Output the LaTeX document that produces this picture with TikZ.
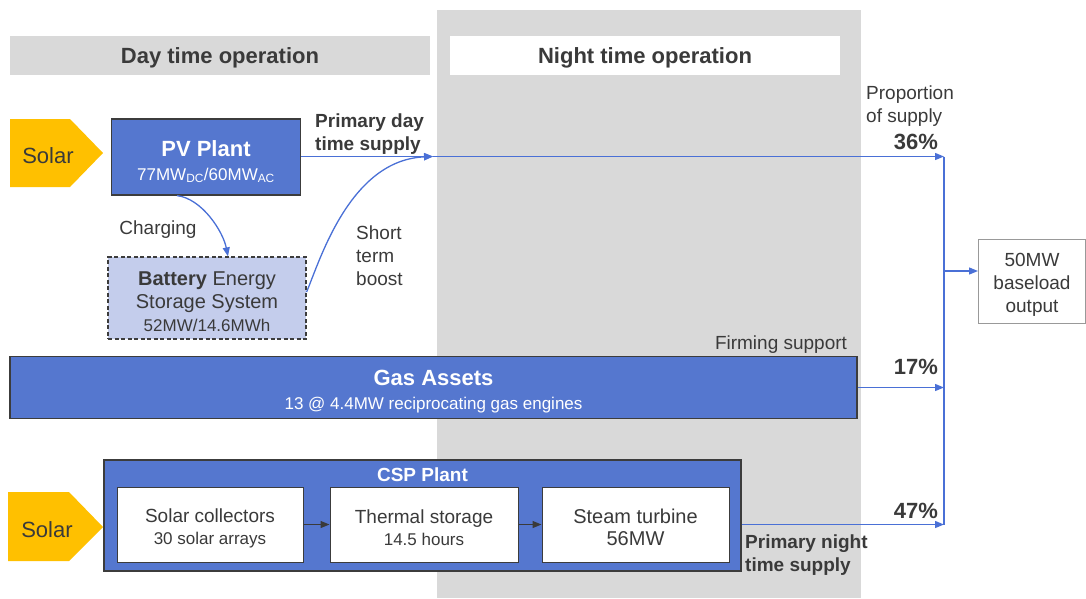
\documentclass[tikz,border=0pt]{standalone}
\usepackage{fontspec}
\setmainfont{Liberation Sans}
\usetikzlibrary{arrows.meta,shapes.geometric,calc}
\definecolor{gbg}{HTML}{D9D9D9}
\definecolor{blueF}{HTML}{5577CF}
\definecolor{lineB}{HTML}{4A70D6}
\definecolor{batF}{HTML}{C4CDEC}
\definecolor{solF}{HTML}{FFC000}
\definecolor{txt}{HTML}{3A3A3A}
\definecolor{bdr}{HTML}{3C3C3C}
\newcommand{\szL}{\fontsize{22}{26}\selectfont}
\newcommand{\szM}{\fontsize{19}{23}\selectfont}
\newcommand{\szN}{\fontsize{20}{23}\selectfont}
\newcommand{\szS}{\fontsize{17}{22}\selectfont}
\tikzset{
  hdr/.style={inner sep=0pt, minimum height=39pt, text=txt, font=\szL\bfseries},
  bluebox/.style={draw=bdr, line width=1.2pt, fill=blueF, inner sep=0pt},
  batbox/.style={draw=bdr, dash pattern=on 4pt off 2.5pt, line width=1.2pt, fill=batF, inner sep=0pt},
  whitebox/.style={draw=bdr, line width=1pt, fill=white, inner sep=0pt},
  outbox/.style={draw=gray!80, line width=1pt, fill=white, inner sep=0pt},
  wtext/.style={text=white, inner sep=0pt, align=center},
  dtext/.style={text=txt, inner sep=0pt, align=center},
  lbl/.style={text=txt, inner sep=0pt, font=\szM},
  pct/.style={text=txt, inner sep=0pt, font=\szL\bfseries},
  conn/.style={draw=lineB, line width=1.3pt, -{Triangle[length=9pt,width=7pt]}},
  inner/.style={draw=txt, line width=1.3pt, -{Triangle[length=9pt,width=7pt]}},
  soltext/.style={text=txt, inner sep=0pt, font=\szL}
}
\begin{document}
\begin{tikzpicture}[x=1pt,y=-1pt]
\useasboundingbox (0,0) rectangle (1086,598);
% night background
\fill[gbg] (437,10) rectangle (861,598);
% headers
\fill[gbg] (10,36) rectangle (430,75);
\fill[white] (450,36) rectangle (840,75);
\node[hdr] (dayhdr) at (220,58) {Day time operation};
\node[hdr] (nighthdr) at (645,58) {Night time operation};
% solar inputs
\fill[solF] (10,119) -- (70,119) -- (103,153) -- (70,187) -- (10,187) -- cycle;
\node[soltext] (solar1) at (48,156) {Solar};
\fill[solF] (8,492) -- (69,492) -- (103,527) -- (69,561) -- (8,561) -- cycle;
\node[soltext] (solar2) at (47,530) {Solar};
% PV plant
\node[bluebox, minimum width=189pt, minimum height=76pt] (pv) at (206,157) {};
\node[wtext, font=\fontsize{22}{24}\selectfont] (pvtxt) at (206,161.5)
  {\bfseries PV Plant\\{\szS 77MW\textsubscript{DC}/60MW\textsubscript{AC}}};
% Battery
\node[batbox, minimum width=198pt, minimum height=82pt] (bat) at (207,298) {};
\node[dtext, font=\szN] (battxt) at (207,301.5)
  {\textbf{Battery} Energy\\Storage System\\{\szS 52MW/14.6MWh}};
% Gas
\node[bluebox, minimum width=847pt, minimum height=62pt] (gas) at (433.5,387.5) {};
\node[wtext, font=\fontsize{22}{24}\selectfont] (gastxt) at (433.5,391.5)
  {\bfseries Gas Assets\\{\szS 13 @ 4.4MW reciprocating gas engines}};
% CSP
\node[bluebox, minimum width=637pt, minimum height=111pt] (csp) at (422.5,515.5) {};
\node[text=white, inner sep=0pt, font=\szM\bfseries] (csplbl) at (422.5,475) {CSP Plant};
\node[whitebox, minimum width=186pt, minimum height=75pt] (sc) at (210,524.5) {};
\node[dtext, font=\fontsize{19}{22}\selectfont] (sctxt) at (210,528)
  {Solar collectors\\{\szS 30 solar arrays}};
\node[whitebox, minimum width=188pt, minimum height=75pt] (ts) at (424,524.5) {};
\node[dtext, font=\fontsize{19}{22}\selectfont] (tstxt) at (424,528)
  {Thermal storage\\{\szS 14.5 hours}};
\node[whitebox, minimum width=187pt, minimum height=75pt] (st) at (635.5,524.5) {};
\node[dtext, font=\fontsize{20}{22}\selectfont] (sttxt) at (635.5,527.5)
  {Steam turbine\\56MW};
\draw[inner] (sc) -- (ts);
\draw[inner] (ts) -- (st);
% output
\node[outbox, minimum width=107pt, minimum height=84pt] (out) at (1032,281) {};
\node[dtext, font=\szM] (outtxt) at (1032,284.5) {50MW\\baseload\\output};
% junction coordinates
\coordinate (j1) at (433,156.5);
\coordinate (m36) at (944,156.5);
\coordinate (m17) at (944,387.5);
\coordinate (m47) at (944,524.5);
\coordinate (mo) at (944,271);
% connectors
\draw[conn] (pv.east |- j1) -- (j1);
\draw[conn] (j1) -- (m36);
\draw[conn] ([xshift=-29pt]pv.south) .. controls +(25,3) and +(-5,-25) .. ([xshift=21pt]bat.north);
\draw[conn] ([yshift=6pt]bat.east) .. controls (320,260) and (350,160) .. (j1);
\draw[conn] (gas.east) -- (m17);
\draw[conn] (csp.east |- m47) -- (m47);
\draw[draw=lineB, line width=1.3pt] (m36) -- (m47);
\draw[conn] (mo) -- (mo -| out.west);
% labels
\node[lbl, font=\szM\bfseries, align=left, anchor=west] (pdts) at (315,134) {Primary day\\time supply};
\node[lbl] (charg) at (158,230) {Charging};
\node[lbl, align=left, anchor=west] (stb) at (356,256) {Short\\term\\boost};
\node[lbl, align=left, anchor=west] (prop) at (866,106) {Proportion\\of supply};
\node[pct] (p36) at (916,141.5) {36\%};
\node[pct] (p17) at (916,366.5) {17\%};
\node[pct] (p47) at (916,510.5) {47\%};
\node[lbl] (firm) at (781,345) {Firming support};
\node[lbl, font=\szM\bfseries, align=left, anchor=west] (pnts) at (745,555) {Primary night\\time supply};
\end{tikzpicture}
\end{document}
